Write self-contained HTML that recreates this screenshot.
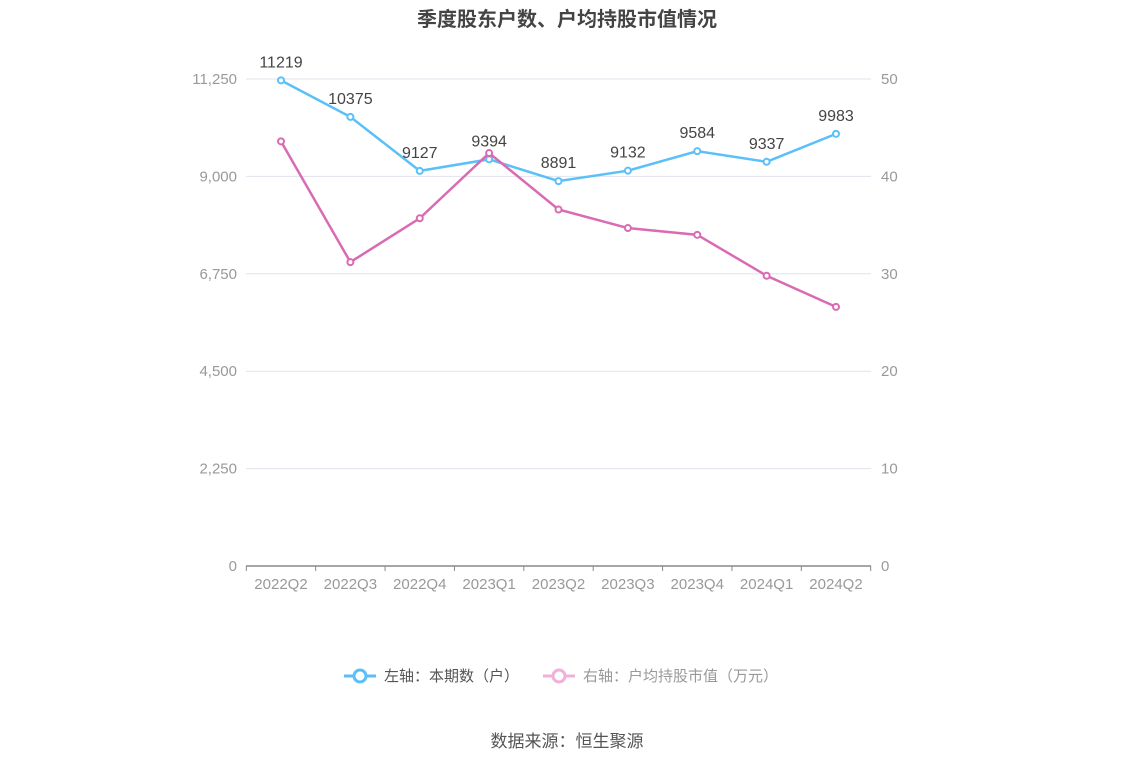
<!DOCTYPE html>
<html><head><meta charset="utf-8">
<style>
body{margin:0;background:#fff;font-family:"Liberation Sans","Noto Sans CJK SC",sans-serif;}
svg text{font-family:"Liberation Sans","Noto Sans CJK SC",sans-serif;}
</style></head>
<body>
<svg id="c" width="1134" height="766">
<text x="567" y="26" text-anchor="middle" font-size="20" font-weight="bold" fill="#444">季度股东户数、户均持股市值情况</text>
<g id="grid"></g><g id="axes"></g><g id="series"></g>
<g>
<g>
<line x1="344" y1="676" x2="376" y2="676" stroke="#5bc0f8" stroke-width="3"/>
<circle cx="360" cy="676" r="6" fill="#fff" stroke="#5bc0f8" stroke-width="3"/>
<text x="384" y="681" font-size="15" fill="#555">左轴：本期数（户）</text></g>
<g>
<line x1="543" y1="676" x2="575" y2="676" stroke="#f0b0d8" stroke-width="3"/>
<circle cx="559" cy="676" r="6" fill="#fff" stroke="#f0b0d8" stroke-width="3"/>
<text x="583" y="681" font-size="15" fill="#999">右轴：户均持股市值（万元）</text></g>
</g>
<text x="567" y="747" text-anchor="middle" font-size="17" fill="#555">数据来源：恒生聚源</text>
</svg>
<script>
const categories=["2022Q2","2022Q3","2022Q4","2023Q1","2023Q2","2023Q3","2023Q4","2024Q1","2024Q2"];
const holders=[11219,10375,9127,9394,8891,9132,9584,9337,9983];
const avgValue=[43.6,31.2,35.7,42.4,36.6,34.7,34.0,29.8,26.6];
const leftTicks=[0,2250,4500,6750,9000,11250];
const rightTicks=[0,10,20,30,40,50];
const NS="http://www.w3.org/2000/svg";
const x0=281,dx=(836-281)/8,yBase=566,yTop=79;
const xS=i=>x0+i*dx;
const yL=v=>yBase-(v/11250)*(yBase-yTop);
const yR=v=>yBase-(v/50)*(yBase-yTop);
function mk(p,t,a){const e=document.createElementNS(NS,t);for(const k in a)e.setAttribute(k,a[k]);p.appendChild(e);return e;}
const grid=document.getElementById('grid'),axes=document.getElementById('axes'),ser=document.getElementById('series');
leftTicks.forEach((v,i)=>{const y=yL(v);
 if(v>0){const g=mk(grid,'line',{x1:246,x2:871,y1:y,y2:y,stroke:'#e0e3ee','stroke-width':1});
 
 }
 const t=mk(axes,'text',{x:237,y:y+5,'text-anchor':'end','font-size':15,fill:'#999'});t.textContent=v.toLocaleString('en-US');
 
 });
rightTicks.forEach(v=>{const t=mk(axes,'text',{x:881,y:yR(v)+5,'font-size':15,fill:'#999'});t.textContent=v;
 
 });
const ax=mk(axes,'line',{x1:246,x2:871,y1:yBase,y2:yBase,stroke:'#888','stroke-width':1.5});


categories.forEach((c,i)=>{const x=xS(i);
 mk(axes,'line',{x1:x-dx/2,x2:x-dx/2,y1:yBase,y2:yBase+5,stroke:'#888'});
 if(i==categories.length-1)mk(axes,'line',{x1:x+dx/2,x2:x+dx/2,y1:yBase,y2:yBase+5,stroke:'#888'});
 const t=mk(axes,'text',{x:x,y:589,'text-anchor':'middle','font-size':15,fill:'#999'});t.textContent=c;
 
 });
function line(vals,ys,col,name,labels){
 const pl=mk(ser,'polyline',{points:vals.map((v,i)=>xS(i)+','+ys(v)).join(' '),fill:'none',stroke:col,'stroke-width':2.5});
 
 
 vals.forEach((v,i)=>{const c=mk(ser,'circle',{cx:xS(i),cy:ys(v),r:3,fill:'#fff',stroke:col,'stroke-width':2});
  
  
  if(labels){const t=mk(ser,'text',{x:xS(i),y:ys(v)-13,'text-anchor':'middle','font-size':16,fill:'#444'});t.textContent=v;
  
  }});
}
line(holders,yL,'#5bc0f8','holders',true);
line(avgValue,yR,'#d86bb3','avg-value',false);
</script>
</body></html>
